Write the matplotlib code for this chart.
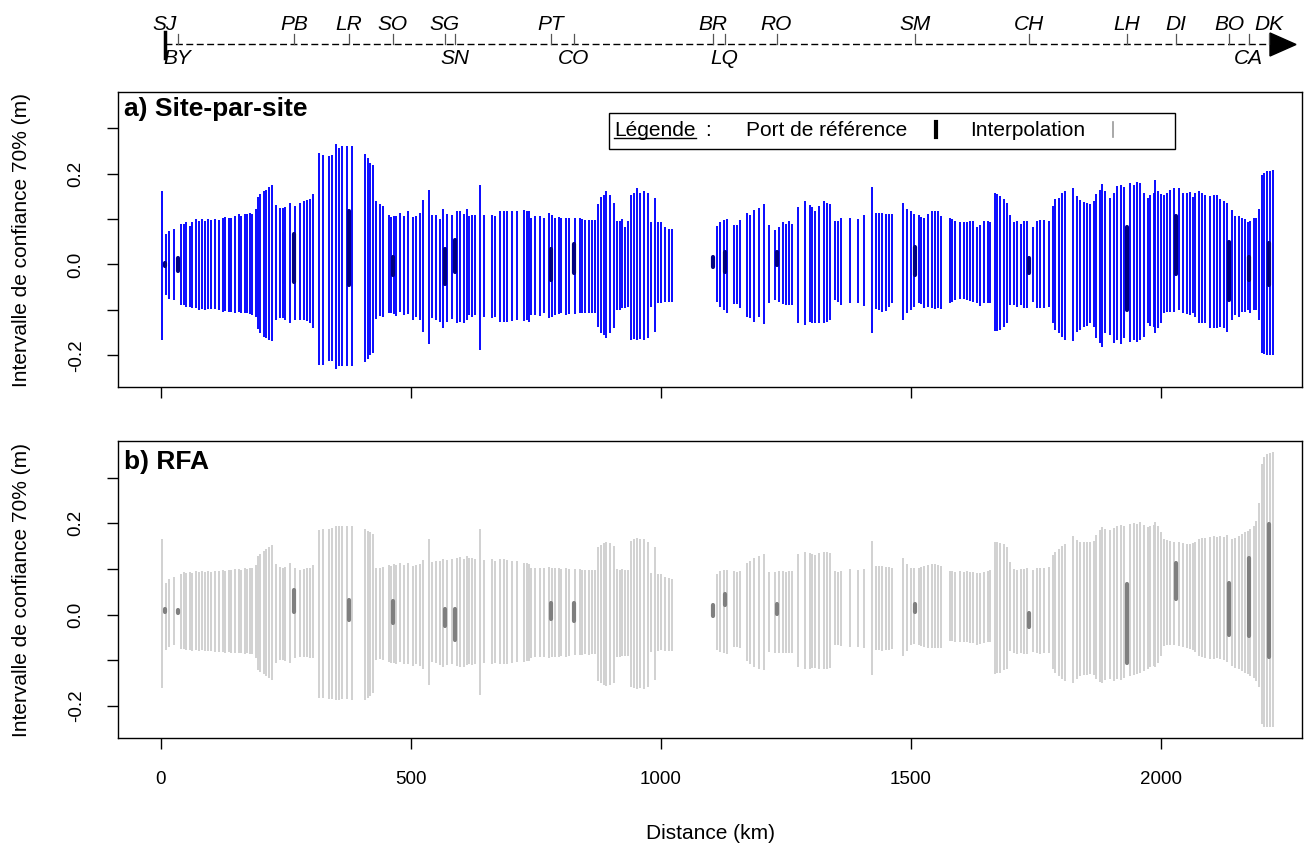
import matplotlib
matplotlib.use("Agg")
import matplotlib.pyplot as plt
from matplotlib.patches import Polygon, Rectangle

plt.rcParams['font.family'] = ['Liberation Sans', 'DejaVu Sans']

# interpolation sites: distance along the coast (km)
site_km = [
    1, 9, 16, 26, 39, 45, 49, 57, 61, 70, 76, 81,
    88, 93, 100, 108, 115, 123, 128, 135, 139, 148, 155, 159,
    167, 171, 177, 181, 190, 193, 198, 205, 210, 215, 221, 230,
    237, 243, 248, 257, 267, 278, 286, 291, 297, 303, 315, 323,
    335, 341, 349, 355, 361, 371, 381, 407, 413, 418, 423, 430,
    437, 443, 455, 459, 465, 469, 477, 485, 493, 503, 509, 517,
    523, 535, 541, 549, 558, 563, 571, 581, 591, 598, 606, 611,
    616, 621, 628, 637, 645, 661, 668, 677, 686, 691, 701, 711,
    725, 731, 736, 740, 748, 757, 765, 775, 781, 788, 795, 799,
    809, 815, 827, 837, 841, 848, 855, 861, 868, 873, 879, 885,
    889, 897, 905, 911, 917, 921, 928, 933, 939, 945, 951, 957,
    965, 973, 979, 988, 993, 1000, 1008, 1015, 1021, 1111, 1118, 1125,
    1131, 1145, 1151, 1158, 1171, 1177, 1185, 1195, 1205, 1215, 1228, 1235,
    1243, 1249, 1255, 1261, 1273, 1288, 1297, 1301, 1308, 1316, 1325, 1331,
    1338, 1348, 1353, 1359, 1377, 1393, 1405, 1421, 1430, 1435, 1441, 1449,
    1455, 1461, 1483, 1491, 1499, 1506, 1515, 1520, 1526, 1533, 1541, 1548,
    1553, 1559, 1577, 1581, 1588, 1597, 1605, 1611, 1618, 1623, 1631, 1638,
    1645, 1653, 1658, 1668, 1671, 1677, 1685, 1691, 1697, 1706, 1711, 1719,
    1726, 1731, 1743, 1751, 1758, 1765, 1775, 1783, 1788, 1795, 1801, 1808,
    1823, 1831, 1838, 1845, 1851, 1857, 1865, 1870, 1877, 1881, 1888, 1897,
    1905, 1911, 1919, 1925, 1937, 1945, 1951, 1957, 1965, 1973, 1978, 1985,
    1988, 1993, 1999, 2005, 2011, 2018, 2025, 2035, 2043, 2051, 2058, 2063,
    2068, 2076, 2081, 2088, 2098, 2105, 2111, 2118, 2125, 2131, 2141, 2148,
    2155, 2161, 2168, 2173, 2178, 2185, 2189, 2196, 2201, 2206, 2211, 2217,
    2223]

# a) site-par-site: 70% confidence interval (m)
sps_hi = [
    .162, .067, .074, .078, .089, .090, .093, .085, .093, .100, .096, .100,
    .096, .100, .098, .100, .098, .103, .105, .102, .103, .106, .111, .107,
    .112, .111, .114, .111, .122, .149, .156, .162, .165, .170, .176, .130,
    .124, .125, .127, .136, .129, .136, .140, .142, .144, .156, .246, .242,
    .240, .242, .265, .256, .260, .262, .262, .243, .235, .224, .219, .140,
    .133, .129, .109, .105, .107, .107, .114, .107, .117, .105, .107, .114,
    .141, .165, .109, .109, .100, .122, .112, .109, .118, .118, .111, .122,
    .107, .109, .109, .175, .109, .109, .107, .118, .118, .118, .118, .118,
    .119, .118, .118, .103, .107, .107, .103, .114, .109, .103, .105, .103,
    .103, .102, .103, .102, .100, .098, .098, .099, .098, .134, .149, .153,
    .162, .153, .136, .096, .095, .100, .083, .096, .154, .158, .169, .158,
    .162, .158, .094, .146, .093, .093, .083, .078, .078, .085, .094, .098,
    .100, .087, .087, .098, .114, .109, .119, .124, .134, .087, .076, .083,
    .093, .089, .095, .089, .127, .140, .131, .127, .118, .129, .140, .136,
    .133, .095, .096, .103, .103, .100, .109, .170, .114, .114, .114, .111,
    .112, .111, .136, .123, .118, .111, .109, .105, .103, .111, .118, .118,
    .118, .107, .103, .100, .096, .093, .093, .094, .096, .095, .083, .087,
    .095, .096, .093, .158, .156, .151, .144, .136, .109, .093, .096, .090,
    .096, .096, .083, .096, .098, .099, .096, .129, .144, .147, .158, .162,
    .168, .151, .141, .138, .136, .134, .140, .156, .165, .178, .162, .147,
    .158, .173, .174, .170, .180, .176, .181, .180, .158, .147, .153, .158,
    .185, .162, .156, .154, .158, .165, .169, .169, .158, .158, .160, .149,
    .158, .162, .158, .153, .151, .153, .153, .144, .140, .136, .119, .107,
    .107, .103, .100, .093, .096, .103, .103, .122, .198, .202, .205, .207,
    .208]
sps_lo = [
    -.166, -.068, -.077, -.079, -.090, -.090, -.093, -.093, -.097, -.097, -.101, -.099,
    -.101, -.098, -.099, -.098, -.101, -.104, -.102, -.105, -.104, -.106, -.104, -.108,
    -.108, -.106, -.110, -.111, -.115, -.143, -.152, -.159, -.162, -.166, -.168, -.122,
    -.119, -.119, -.122, -.130, -.122, -.122, -.122, -.125, -.130, -.141, -.221, -.221,
    -.213, -.213, -.230, -.224, -.223, -.224, -.224, -.216, -.208, -.199, -.194, -.121,
    -.114, -.115, -.106, -.108, -.109, -.114, -.104, -.111, -.110, -.122, -.115, -.122,
    -.149, -.175, -.119, -.122, -.126, -.141, -.126, -.121, -.128, -.126, -.130, -.122,
    -.111, -.115, -.111, -.188, -.115, -.119, -.115, -.126, -.126, -.126, -.125, -.122,
    -.125, -.122, -.126, -.111, -.111, -.114, -.108, -.119, -.115, -.111, -.110, -.108,
    -.111, -.109, -.109, -.108, -.108, -.106, -.106, -.106, -.106, -.137, -.152, -.155,
    -.162, -.152, -.141, -.101, -.101, -.097, -.097, -.093, -.166, -.164, -.166, -.165,
    -.166, -.162, -.093, -.148, -.086, -.085, -.082, -.082, -.082, -.082, -.093, -.101,
    -.108, -.088, -.088, -.097, -.115, -.117, -.126, -.115, -.131, -.085, -.079, -.082,
    -.087, -.090, -.090, -.090, -.128, -.133, -.126, -.130, -.130, -.130, -.130, -.126,
    -.122, -.079, -.082, -.090, -.086, -.085, -.092, -.152, -.099, -.101, -.104, -.102,
    -.093, -.086, -.122, -.108, -.101, -.093, -.086, -.088, -.097, -.093, -.097, -.099,
    -.097, -.099, -.085, -.082, -.079, -.077, -.077, -.079, -.081, -.082, -.086, -.092,
    -.085, -.085, -.086, -.146, -.146, -.144, -.137, -.130, -.090, -.090, -.093, -.090,
    -.095, -.097, -.082, -.097, -.097, -.097, -.093, -.130, -.144, -.152, -.159, -.166,
    -.168, -.148, -.144, -.137, -.136, -.130, -.137, -.162, -.172, -.181, -.152, -.155,
    -.173, -.166, -.175, -.162, -.170, -.166, -.170, -.166, -.159, -.130, -.136, -.137,
    -.152, -.141, -.130, -.108, -.104, -.104, -.104, -.101, -.106, -.109, -.111, -.106,
    -.115, -.130, -.130, -.130, -.141, -.141, -.141, -.137, -.141, -.148, -.122, -.111,
    -.115, -.104, -.104, -.101, -.106, -.101, -.101, -.122, -.195, -.197, -.199, -.199,
    -.200]

# b) RFA: 70% confidence interval (m)
rfa_hi = [
    .165, .070, .077, .083, .090, .093, .092, .094, .092, .095, .094, .096,
    .093, .096, .094, .096, .095, .097, .096, .098, .097, .099, .100, .098,
    .101, .100, .102, .101, .108, .128, .133, .139, .143, .147, .152, .110,
    .104, .103, .105, .112, .102, .098, .100, .101, .103, .108, .185, .187,
    .188, .190, .194, .193, .193, .193, .193, .188, .184, .180, .176, .103,
    .101, .104, .108, .107, .110, .109, .112, .108, .113, .106, .108, .111,
    .120, .165, .115, .117, .118, .122, .120, .121, .125, .126, .121, .128,
    .124, .123, .122, .187, .120, .121, .118, .121, .121, .120, .118, .117,
    .113, .112, .111, .103, .102, .103, .101, .104, .102, .101, .102, .100,
    .101, .100, .099, .099, .098, .097, .098, .097, .097, .148, .153, .156,
    .160, .157, .150, .099, .098, .099, .097, .098, .162, .165, .168, .166,
    .165, .160, .092, .149, .090, .088, .083, .080, .077, .088, .095, .097,
    .098, .095, .094, .096, .112, .118, .125, .128, .132, .094, .093, .095,
    .096, .094, .096, .095, .132, .138, .135, .133, .130, .135, .137, .136,
    .134, .095, .094, .096, .099, .098, .100, .161, .107, .106, .107, .105,
    .104, .103, .125, .110, .103, .102, .103, .104, .106, .108, .110, .111,
    .109, .107, .096, .095, .094, .095, .094, .095, .094, .093, .092, .091,
    .093, .095, .097, .160, .159, .157, .154, .148, .115, .099, .098, .100,
    .099, .101, .097, .101, .102, .103, .104, .130, .138, .144, .150, .154,
    .172, .163, .160, .158, .158, .160, .162, .175, .185, .192, .188, .185,
    .190, .195, .196, .193, .198, .200, .199, .202, .196, .192, .194, .197,
    .203, .195, .180, .166, .164, .162, .160, .158, .156, .155, .154, .156,
    .160, .165, .167, .168, .170, .172, .170, .172, .170, .174, .165, .168,
    .172, .176, .180, .184, .188, .195, .205, .245, .330, .345, .352, .354,
    .355]
rfa_lo = [
    -.161, -.077, -.070, -.066, -.075, -.076, -.078, -.077, -.079, -.078, -.080, -.078,
    -.080, -.079, -.080, -.081, -.082, -.082, -.083, -.082, -.084, -.083, -.085, -.084,
    -.086, -.085, -.086, -.087, -.095, -.121, -.126, -.131, -.135, -.139, -.143, -.105,
    -.100, -.099, -.101, -.106, -.094, -.092, -.093, -.093, -.094, -.095, -.183, -.183,
    -.184, -.184, -.186, -.186, -.185, -.185, -.186, -.187, -.182, -.178, -.172, -.099,
    -.097, -.099, -.103, -.105, -.106, -.108, -.104, -.107, -.108, -.112, -.109, -.113,
    -.118, -.154, -.104, -.106, -.110, -.114, -.110, -.108, -.113, -.114, -.115, -.110,
    -.108, -.110, -.108, -.176, -.106, -.108, -.105, -.107, -.108, -.108, -.106, -.104,
    -.103, -.102, -.101, -.094, -.093, -.093, -.092, -.094, -.093, -.092, -.092, -.091,
    -.092, -.091, -.089, -.088, -.088, -.087, -.088, -.087, -.087, -.145, -.150, -.153,
    -.157, -.155, -.150, -.092, -.092, -.090, -.091, -.090, -.158, -.160, -.163, -.161,
    -.162, -.158, -.081, -.143, -.079, -.078, -.079, -.080, -.080, -.077, -.082, -.084,
    -.086, -.070, -.071, -.073, -.101, -.108, -.115, -.118, -.121, -.082, -.084, -.085,
    -.084, -.085, -.084, -.084, -.115, -.120, -.118, -.117, -.116, -.118, -.119, -.118,
    -.116, -.066, -.067, -.068, -.070, -.070, -.072, -.132, -.078, -.077, -.079, -.078,
    -.077, -.076, -.090, -.080, -.066, -.065, -.066, -.068, -.070, -.072, -.073, -.074,
    -.074, -.072, -.058, -.058, -.059, -.060, -.059, -.060, -.061, -.063, -.066, -.064,
    -.061, -.060, -.059, -.129, -.128, -.127, -.122, -.118, -.080, -.084, -.086, -.085,
    -.086, -.087, -.082, -.085, -.086, -.085, -.084, -.118, -.128, -.135, -.141, -.145,
    -.150, -.140, -.135, -.133, -.132, -.130, -.133, -.140, -.148, -.150, -.143, -.140,
    -.145, -.140, -.142, -.138, -.135, -.132, -.130, -.128, -.124, -.118, -.115, -.112,
    -.115, -.105, -.090, -.068, -.066, -.066, -.066, -.068, -.070, -.073, -.075, -.078,
    -.082, -.090, -.092, -.094, -.097, -.097, -.096, -.098, -.100, -.104, -.112, -.116,
    -.120, -.124, -.128, -.130, -.134, -.138, -.145, -.158, -.240, -.245, -.246, -.247,
    -.247]

# reference ports
port_names = ['SJ', 'BY', 'PB', 'LR', 'SO', 'SG', 'SN', 'PT', 'CO', 'BR',
              'LQ', 'RO', 'SM', 'CH', 'LH', 'DI', 'BO', 'CA', 'DK']
port_km = [7, 33, 266, 375, 463, 567, 587, 779, 825, 1103,
           1127, 1231, 1508, 1736, 1931, 2029, 2136, 2175, 2215]
port_above = [True, False, True, True, True, True, False, True, False, True,
              False, True, True, True, True, True, True, False, True]
port_sps_hi = [.004, .015, .067, .118, .016, .034, .054, .034, .044, .016,
               .027, .028, .038, .015, .082, .107, .049, .017, .047]
port_sps_lo = [-.004, -.015, -.039, -.046, -.024, -.044, -.017, -.035, -.019, -.006,
               -.017, -.001, -.024, -.019, -.101, -.022, -.079, -.034, -.046]
port_rfa_hi = [.012, .010, .053, .033, .029, .012, .012, .026, .026, .022,
               .046, .024, .024, .004, .066, .114, .070, .123, .198]
port_rfa_lo = [.006, .004, .005, -.012, -.018, -.024, -.055, -.009, -.015, -.004,
               .022, .002, .005, -.026, -.106, .034, -.044, -.046, -.092]

W, H = 1309, 847
XLIM = (-86, 2282)
YLIM = (-0.27, 0.38)

fig = plt.figure(figsize=(W / 100, H / 100), dpi=100)


def px_axes(left, top, right, bottom):
    return fig.add_axes([left / W, 1 - bottom / H, (right - left) / W, (bottom - top) / H])


def draw_panel(ax, hi, lo, p_hi, p_lo, c_interp, c_port, title, show_x):
    ax.vlines(site_km, lo, hi, colors=c_interp, lw=1.35)
    ax.vlines(port_km, p_lo, p_hi, colors=c_port, lw=3.0, capstyle='round')
    ax.set_xlim(*XLIM)
    ax.set_ylim(*YLIM)
    ax.set_xticks([0, 500, 1000, 1500, 2000])
    ax.set_yticks([-0.2, -0.1, 0.0, 0.1, 0.2, 0.3])
    ax.set_yticklabels(['-0.2', '', '0.0', '', '0.2', ''])
    ax.tick_params(axis='both', direction='out', length=8, width=1, labelsize=13.5)
    ax.tick_params(axis='y', labelrotation=90, pad=16)
    ax.tick_params(axis='x', pad=16, labelbottom=show_x)
    for lab in ax.get_yticklabels():
        lab.set_va('center')
    for sp in ax.spines.values():
        sp.set_linewidth(1.0)
    ax.text(0.005, 0.93 if show_x else 0.943, title, transform=ax.transAxes,
            fontsize=19, fontweight='bold', ha='left', va='center')


ax_top = px_axes(118, 0, 1302, 80)
ax_a = px_axes(118, 92, 1302, 387)
ax_b = px_axes(118, 441, 1302, 738)

draw_panel(ax_a, sps_hi, sps_lo, port_sps_hi, port_sps_lo, '#0000ff', '#000080',
           'a) Site-par-site', False)
draw_panel(ax_b, rfa_hi, rfa_lo, port_rfa_hi, port_rfa_lo, '#d0d0d0', '#7f7f7f',
           'b) RFA', True)

ylab = 'Intervalle de confiance 70% (m)'
fig.text(22 / W, 1 - 240 / H, ylab, rotation=90, ha='center', va='center', fontsize=15)
fig.text(22 / W, 1 - 590 / H, ylab, rotation=90, ha='center', va='center', fontsize=15)
fig.text(710 / W, 1 - 833 / H, 'Distance (km)', ha='center', va='center', fontsize=15)

# top strip: coastline distance with port positions
ax_top.set_xlim(*XLIM)
ax_top.set_ylim(80, 0)
ax_top.axis('off')
ax_top.plot([port_km[0], 2218], [44, 44], color='black', lw=1, ls=(0, (5, 2.5)))
ax_top.add_patch(Polygon([[2218, 33], [2218, 56], [2270, 44.5]], closed=True,
                         color='black', clip_on=False))
ax_top.plot([port_km[0], port_km[0]], [32, 58], color='black', lw=2.5)
for name, km, above in zip(port_names, port_km, port_above):
    if name != 'SJ':
        ax_top.plot([km, km], [34, 44], color='#555555', lw=0.9)
    ax_top.text(km, 24 if above else 58, name, ha='center', va='center',
                style='italic', fontsize=15)

# legend box in panel a
tr = ax_a.transAxes
ax_a.add_patch(Rectangle((0.4147, 0.807), 0.478, 0.122, transform=tr,
                         facecolor='white', edgecolor='black', lw=1, zorder=5))
ly = 0.871
t_leg = ax_a.text(0.419, ly, 'Légende', transform=tr, fontsize=15, va='center', zorder=6)
ax_a.text(0.496, ly, ':', transform=tr, fontsize=15, va='center', zorder=6)
ax_a.text(0.5304, ly, 'Port de référence', transform=tr, fontsize=15, va='center', zorder=6)
ax_a.plot([0.691, 0.691], [0.847, 0.898], transform=tr, color='black', lw=3, zorder=6)
ax_a.text(0.7196, ly, 'Interpolation', transform=tr, fontsize=15, va='center', zorder=6)
ax_a.plot([0.8404, 0.8404], [0.847, 0.898], transform=tr, color='#999999', lw=1.2, zorder=6)

fig.canvas.draw()
bb = t_leg.get_window_extent().transformed(tr.inverted())
ax_a.plot([bb.x0, bb.x1], [bb.y0 + 0.004, bb.y0 + 0.004], transform=tr,
          color='black', lw=1, zorder=6)

fig.savefig('out.png', dpi=100)
